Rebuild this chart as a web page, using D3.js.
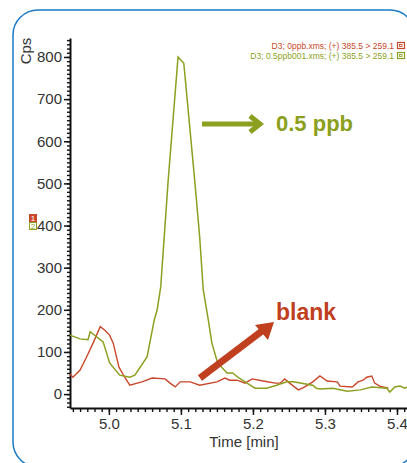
<!DOCTYPE html>
<html>
<head>
<meta charset="utf-8">
<script src="https://cdn.jsdelivr.net/npm/d3@7"></script>
<style>
  html, body { margin: 0; padding: 0; background: #fff; }
  svg { display: block; }
  text { font-family: "Liberation Sans Narrow", "Liberation Sans", sans-serif; }
</style>
</head>
<body>
<div id="chart"></div>
<script>
// 0.5 ppb trace (time in min, counts per second)
const greenTime = [4.946, 4.960, 4.971, 4.974, 4.992, 5.001, 5.015, 5.029, 5.036, 5.053, 5.063, 5.067, 5.072, 5.082, 5.096, 5.104, 5.119, 5.126, 5.131, 5.138, 5.143, 5.151, 5.164, 5.172, 5.179, 5.189, 5.203, 5.219, 5.233, 5.247, 5.256, 5.283, 5.288, 5.293, 5.311, 5.331, 5.349, 5.365, 5.386, 5.390, 5.397, 5.404, 5.411, 5.414];
const greenCps  = [140, 131, 129, 148, 124, 74, 45, 40, 45, 88, 176, 200, 255, 500, 800, 785, 510, 374, 248, 176, 121, 74, 50, 50, 40, 29, 14, 14, 21, 29, 29, 21, 14, 12, 14, 7, 10, 17, 14, 5, 17, 19, 14, 17];

// blank trace
const redTime = [4.946, 4.950, 4.960, 4.969, 4.978, 4.988, 4.994, 5.001, 5.006, 5.014, 5.022, 5.029, 5.046, 5.060, 5.078, 5.085, 5.092, 5.099, 5.113, 5.126, 5.150, 5.161, 5.168, 5.178, 5.189, 5.199, 5.214, 5.231, 5.238, 5.244, 5.249, 5.251, 5.263, 5.272, 5.283, 5.293, 5.303, 5.317, 5.321, 5.338, 5.346, 5.353, 5.358, 5.365, 5.369, 5.376, 5.388];
const redCps  = [48, 40, 57, 88, 121, 160, 152, 140, 121, 64, 40, 21, 29, 38, 36, 26, 17, 29, 29, 21, 29, 38, 33, 33, 26, 36, 31, 26, 26, 36, 29, 26, 10, 17, 29, 43, 31, 29, 19, 17, 29, 33, 40, 43, 26, 19, 14];

const yTicks = [0, 100, 200, 300, 400, 500, 600, 700, 800];
const xTicks = [5.0, 5.1, 5.2, 5.3, 5.4];
const legendLabels = ["D3; 0ppb.xms; (+) 385.5 > 259.1", "D3; 0.5ppb001.xms; (+) 385.5 > 259.1"];

const red = "#c9472a", green = "#8c9f1e", blue = "#1b7bc4", ink = "#333";

const width = 407, height = 463;
const svg = d3.select("#chart").append("svg")
    .attr("width", width)
    .attr("height", height);

// rounded frame
svg.append("rect")
    .attr("x", 13).attr("y", 10)
    .attr("width", 402).attr("height", 457)
    .attr("rx", 25).attr("ry", 25)
    .attr("fill", "none")
    .attr("stroke", blue)
    .attr("stroke-width", 1.5);

const x = d3.scaleLinear().domain([4.946, 5.4139]).range([70, 407]);
const y = d3.scaleLinear().domain([-33, 845]).range([408, 38]);

// minor ticks
svg.append("g")
    .attr("transform", "translate(70,0)")
    .call(d3.axisLeft(y).tickValues(d3.range(-30, 841, 10)).tickSize(3).tickFormat(""))
    .call(g => g.select(".domain").remove())
    .selectAll("line").attr("stroke", "#111").attr("stroke-width", 1.4);

svg.append("g")
    .attr("transform", "translate(0,408)")
    .call(d3.axisBottom(x).tickValues(d3.range(4.95, 5.415, 0.01)).tickSize(4).tickFormat(""))
    .call(g => g.select(".domain").remove())
    .selectAll("line").attr("stroke", "#111").attr("stroke-width", 1.4);

// major axes
const yAxis = svg.append("g")
    .attr("transform", "translate(70,0)")
    .call(d3.axisLeft(y).tickValues(yTicks).tickSize(6).tickSizeOuter(0).tickPadding(2));
yAxis.select(".domain").attr("stroke", "#111").attr("stroke-width", 2);
yAxis.selectAll(".tick line").attr("stroke", "#111").attr("stroke-width", 1.5);
yAxis.selectAll("text")
    .attr("fill", ink)
    .style("font-size", "15px")
    .style("font-family", "'Liberation Sans Narrow', 'Liberation Sans', sans-serif");

const xAxis = svg.append("g")
    .attr("transform", "translate(0,408)")
    .call(d3.axisBottom(x).tickValues(xTicks).tickSize(7).tickSizeOuter(0).tickPadding(3).tickFormat(d3.format(".1f")));
xAxis.select(".domain").attr("stroke", "#111").attr("stroke-width", 2);
xAxis.selectAll(".tick line").attr("stroke", "#111").attr("stroke-width", 1.5);
xAxis.selectAll("text")
    .attr("fill", ink)
    .style("font-size", "15px")
    .style("font-family", "'Liberation Sans Narrow', 'Liberation Sans', sans-serif");

svg.append("text")
    .attr("transform", "translate(31,51) rotate(-90)")
    .attr("text-anchor", "middle")
    .attr("fill", ink)
    .style("font-size", "15px")
    .text("Cps");

svg.append("text")
    .attr("x", 244).attr("y", 447)
    .attr("text-anchor", "middle")
    .attr("fill", ink)
    .style("font-size", "15px")
    .text("Time [min]");

// traces
const line = d3.line().x(d => x(d[0])).y(d => y(d[1]));

svg.append("path")
    .datum(d3.zip(redTime, redCps))
    .attr("d", line)
    .attr("fill", "none")
    .attr("stroke", red)
    .attr("stroke-width", 1.4);

svg.append("path")
    .datum(d3.zip(greenTime, greenCps))
    .attr("d", line)
    .attr("fill", "none")
    .attr("stroke", green)
    .attr("stroke-width", 1.5);

// legend top right
const legend = svg.append("g");
legendLabels.forEach((label, i) => {
    const c = i === 0 ? red : green;
    legend.append("text")
        .attr("x", 394).attr("y", 49 + i * 10)
        .attr("text-anchor", "end")
        .attr("fill", c)
        .style("font-size", "8.5px")
        .text(label);
    legend.append("rect")
        .attr("x", 397.5).attr("y", 42.5 + i * 10)
        .attr("width", 7).attr("height", 6)
        .attr("fill", "none").attr("stroke", c).attr("stroke-width", 1.2);
    legend.append("rect")
        .attr("x", 399.5).attr("y", 44.5 + i * 10)
        .attr("width", 2.5).attr("height", 2)
        .attr("fill", "none").attr("stroke", c).attr("stroke-width", 0.8);
});

// trace markers 1 / 2
svg.append("rect").attr("x", 29).attr("y", 214).attr("width", 8).attr("height", 8).attr("fill", red);
svg.append("text").attr("x", 33).attr("y", 221).attr("text-anchor", "middle")
    .attr("fill", "#fff").style("font-size", "8px").text("1");
svg.append("rect").attr("x", 29.5).attr("y", 222.5).attr("width", 7).attr("height", 7)
    .attr("fill", "#fff").attr("stroke", green).attr("stroke-width", 1);
svg.append("text").attr("x", 33).attr("y", 229).attr("text-anchor", "middle")
    .attr("fill", green).style("font-size", "8px").text("2");

// annotations
svg.append("line")
    .attr("x1", 202).attr("y1", 124).attr("x2", 258).attr("y2", 124)
    .attr("stroke", green).attr("stroke-width", 5);
svg.append("polyline")
    .attr("points", "250,116 260,124 250,132")
    .attr("fill", "none").attr("stroke", green).attr("stroke-width", 5)
    .attr("stroke-linejoin", "miter");
svg.append("text")
    .attr("x", 276).attr("y", 131)
    .attr("fill", green)
    .style("font-family", "'Liberation Sans', Arial, sans-serif")
    .style("font-weight", "bold")
    .style("font-size", "22px")
    .text("0.5 ppb");

svg.append("line")
    .attr("x1", 200).attr("y1", 378).attr("x2", 262).attr("y2", 331)
    .attr("stroke", "#bf3f1e").attr("stroke-width", 7);
svg.append("polygon")
    .attr("points", "274,322 255,325 268,340")
    .attr("fill", "#bf3f1e");
svg.append("text")
    .attr("x", 276).attr("y", 320)
    .attr("fill", "#bf3f1e")
    .style("font-family", "'Liberation Sans', Arial, sans-serif")
    .style("font-weight", "bold")
    .style("font-size", "23px")
    .text("blank");
</script>
</body>
</html>
